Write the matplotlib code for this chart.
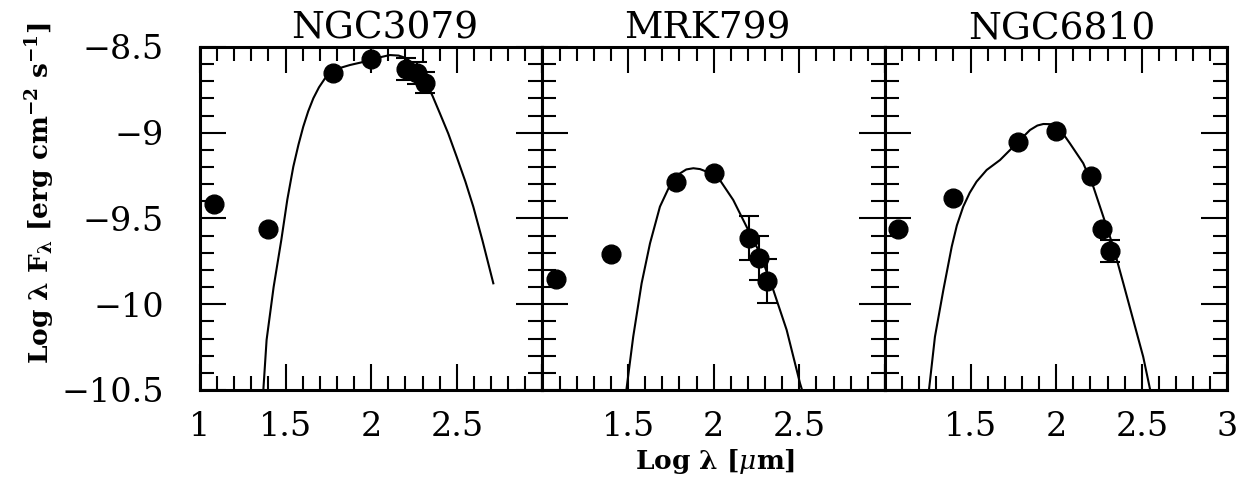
import numpy as np
import matplotlib
matplotlib.use("Agg")
import matplotlib.pyplot as plt
from matplotlib.ticker import MultipleLocator, FuncFormatter

plt.rcParams['font.family'] = ['DejaVu Serif']
plt.rcParams['mathtext.fontset'] = 'dejavuserif'

# Photometry: log wavelength [micron] and log(lambda F_lambda)
wave = [1.079, 1.398, 1.778, 2.000, 2.206, 2.265, 2.312]

ngc3079_flux = [-9.415, -9.563, -8.653, -8.572, -8.630, -8.653, -8.708]
ngc3079_err = [0.0, 0.0, 0.0, 0.0, 0.065, 0.065, 0.063]

mrk799_flux = [-9.854, -9.707, -9.285, -9.233, -9.615, -9.732, -9.864]
mrk799_err = [0.0, 0.0, 0.0, 0.0, 0.128, 0.128, 0.128]

ngc6810_flux = [-9.561, -9.379, -9.052, -8.988, -9.252, -9.561, -9.690]
ngc6810_err = [0.0, 0.0, 0.0, 0.0, 0.0, 0.0, 0.063]

# Model SED curves
ngc3079_model_x = [1.370, 1.389, 1.430, 1.475, 1.510, 1.545, 1.575, 1.603, 1.632, 1.662,
                   1.695, 1.730, 1.778, 1.876, 2.003, 2.060, 2.109, 2.160, 2.207, 2.265,
                   2.324, 2.360, 2.401, 2.450, 2.499, 2.550, 2.596, 2.650, 2.713]
ngc3079_model_y = [-10.50, -10.208, -9.900, -9.625, -9.390, -9.198, -9.070, -8.965, -8.875, -8.799,
                   -8.735, -8.683, -8.634, -8.605, -8.576, -8.558, -8.547, -8.550, -8.566, -8.620,
                   -8.712, -8.790, -8.887, -9.005, -9.140, -9.285, -9.431, -9.630, -9.878]

mrk799_model_x = [1.490, 1.530, 1.579, 1.628, 1.686, 1.745, 1.803, 1.840, 1.881, 1.920, 1.959,
                  2.036, 2.114, 2.192, 2.270, 2.348, 2.426, 2.504, 2.516]
mrk799_model_y = [-10.50, -10.189, -9.878, -9.645, -9.431, -9.305, -9.237, -9.214, -9.207, -9.212, -9.227,
                  -9.276, -9.392, -9.548, -9.703, -9.917, -10.150, -10.461, -10.50]

ngc6810_model_x = [1.257, 1.292, 1.341, 1.390, 1.420, 1.457, 1.495, 1.535, 1.594, 1.672, 1.769,
                   1.847, 1.890, 1.925, 1.965, 2.003, 2.040, 2.080, 2.158, 2.217, 2.275, 2.333,
                   2.392, 2.450, 2.508, 2.549]
ngc6810_model_y = [-10.50, -10.189, -9.917, -9.664, -9.540, -9.431, -9.350, -9.285, -9.217, -9.159, -9.062,
                   -8.984, -8.958, -8.949, -8.950, -8.965, -9.005, -9.062, -9.178, -9.315, -9.489, -9.664,
                   -9.878, -10.092, -10.306, -10.50]

names = ["NGC3079", "MRK799", "NGC6810"]
name_x = [2.08, 1.965, 2.03]
fluxes = [ngc3079_flux, mrk799_flux, ngc6810_flux]
errors = [ngc3079_err, mrk799_err, ngc6810_err]
models = [(ngc3079_model_x, ngc3079_model_y),
          (mrk799_model_x, mrk799_model_y),
          (ngc6810_model_x, ngc6810_model_y)]

fig, axes = plt.subplots(1, 3, figsize=(12.53, 4.9), dpi=100, sharey=True)
fig.subplots_adjust(left=0.1596, right=0.9796, bottom=0.2041, top=0.9041, wspace=0)


def ylab(v, pos):
    return ("%g" % v).replace("-", "\u2212")


for i, ax in enumerate(axes):
    mx, my = models[i]
    ax.plot(mx, my, color="black", lw=1.5, zorder=2, solid_joinstyle="round")
    ax.plot(wave, fluxes[i], "o", color="black", ms=13.5, zorder=3)
    w = np.array(wave)
    f = np.array(fluxes[i])
    e = np.array(errors[i])
    sel = e > 0
    ax.errorbar(w[sel], f[sel], yerr=e[sel], fmt="none", ecolor="black",
                elinewidth=1.5, capsize=7.5, capthick=1.5, zorder=3)

    ax.set_xlim(1.0, 3.0)
    ax.set_ylim(-10.5, -8.5)
    ax.xaxis.set_major_locator(MultipleLocator(0.5))
    ax.xaxis.set_minor_locator(MultipleLocator(0.1))
    ax.yaxis.set_major_locator(MultipleLocator(0.5))
    ax.yaxis.set_minor_locator(MultipleLocator(0.1))
    ax.tick_params(which="both", direction="in", top=True, right=True,
                   width=1.5, color="black")
    ax.tick_params(which="major", length=18.5)
    ax.tick_params(which="minor", length=10)
    ax.tick_params(axis="x", which="major", labelsize=24, pad=15)
    ax.tick_params(axis="y", which="major", labelsize=24, pad=26)
    for s in ax.spines.values():
        s.set_linewidth(2.2)

    def xlab(v, pos, i=i):
        if abs(v - 1.0) < 1e-6 and i > 0:
            return ""
        if abs(v - 3.0) < 1e-6 and i < 2:
            return ""
        return "%g" % v
    ax.xaxis.set_major_formatter(FuncFormatter(xlab))
    ax.yaxis.set_major_formatter(FuncFormatter(ylab))

    ax.text(name_x[i], -8.45, names[i], ha="center", va="baseline", fontsize=27)

fig.text(0.571, 0.042, "Log \u03bb [$\\mu$m]", ha="center", va="baseline",
         fontsize=19, fontweight="bold")
fig.text(0.032, 0.605, "Log \u03bb F$_\\mathbf{\\lambda}$ [erg cm$^{\\mathbf{-2}}$ s$^{\\mathbf{-1}}$]",
         ha="center", va="center", rotation=90, fontsize=19, fontweight="bold")

fig.savefig("out.png", dpi=100)
